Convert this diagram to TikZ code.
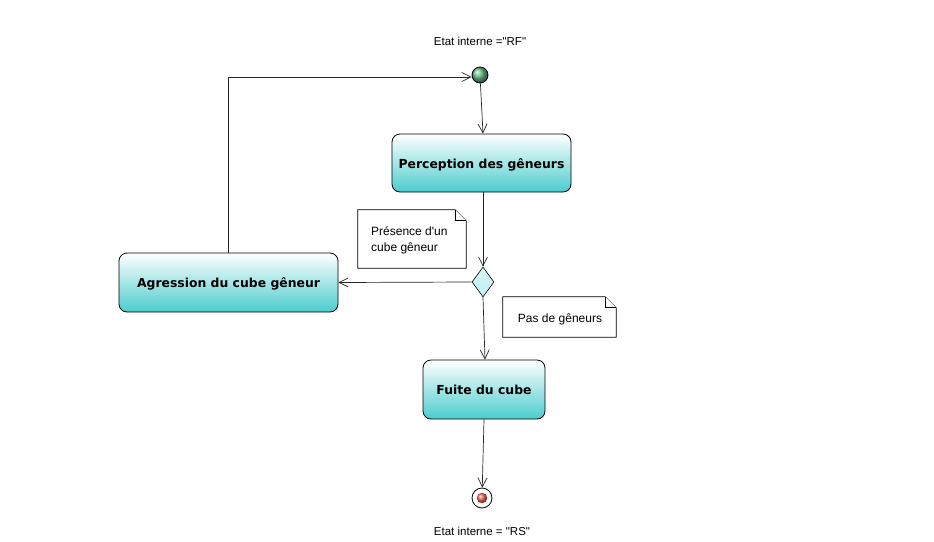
\documentclass[tikz,border=0pt]{standalone}
\usepackage{fontspec}
\setmainfont{Liberation Sans}[Ligatures=TeXOff]
\newfontfamily\actfont{DejaVu Sans}[Ligatures=TeXOff]
\usetikzlibrary{shapes.geometric,arrows.meta}
\definecolor{teal1}{RGB}{76,204,206}
\definecolor{diafill}{RGB}{190,238,240}
\begin{document}
\begin{tikzpicture}[x=1pt,y=-1pt,
  act/.style={draw=black, line width=0.8pt, rounded corners=8pt, top color=white, bottom color=teal1,
    font=\actfont\bfseries\fontsize{12.4}{15}\selectfont, inner sep=0pt, text height=10pt, text depth=0pt},
  flow/.style={draw=black!85, line width=0.7pt, -{Straight Barb[length=9pt,width=9pt,line width=0.7pt]}},
  notebox/.style={draw=none, inner sep=0pt},
  notetext/.style={font=\fontsize{12}{16}\selectfont, inner sep=0pt, align=left},
  notepath/.style={draw=black, line width=0.7pt, fill=white},
  lbl/.style={font=\fontsize{11.5}{14}\selectfont, inner sep=0pt}
]
\useasboundingbox (0,0) rectangle (934,541);

% nodes
\node[circle, draw=black, line width=0.8pt, minimum size=16pt, inner sep=0pt,
      shading=ball, ball color={rgb,255:red,105;green,190;blue,135}] (init) at (480,75) {};
\node[lbl] (lblrf) at (480,41) {Etat interne ="RF"};

\node[act, minimum width=179pt, minimum height=58pt] (perc) at (481.5,163) {Perception des gêneurs};
\node[diamond, draw=black, line width=0.6pt, minimum width=22pt, minimum height=30pt, inner sep=0pt,
      top color=diafill!60!white, bottom color=diafill] (dia) at (483,282) {};
\node[act, minimum width=219pt, minimum height=59pt] (agr) at (228.5,282.5) {Agression du cube gêneur};
\node[act, minimum width=122pt, minimum height=59pt] (fuite) at (484,389.5) {Fuite du cube};

\node[circle, draw=black, line width=0.8pt, minimum size=20pt, inner sep=0pt, fill=white] (fin) at (482,498) {};
\node[circle, minimum size=10.5pt, inner sep=0pt, shading=ball, ball color={rgb,255:red,245;green,100;blue,80}] (fincore) at (482,498) {};
\node[lbl] (lblrs) at (482,531) {Etat interne = "RS"};

% notes
\node[notebox, minimum width=108pt, minimum height=58pt] (n1) at (412,239) {};
\draw[notepath] (n1.north west) -- ([xshift=-11pt]n1.north east) -- ([yshift=-11pt]n1.north east)
  -- (n1.south east) -- (n1.south west) -- cycle;
\draw[notepath] ([xshift=-11pt]n1.north east) |- ([yshift=-11pt]n1.north east);
\node[notetext, anchor=west] (n1t) at (371,240) {Présence d\textquotesingle un\\cube gêneur};

\node[notebox, minimum width=113pt, minimum height=40pt] (n2) at (559.5,317) {};
\draw[notepath] (n2.north west) -- ([xshift=-11pt]n2.north east) -- ([yshift=-11pt]n2.north east)
  -- (n2.south east) -- (n2.south west) -- cycle;
\draw[notepath] ([xshift=-11pt]n2.north east) |- ([yshift=-11pt]n2.north east);
\node[notetext] (n2t) at (560,319) {Pas de gêneurs};

% connectors
\draw[flow] (init) -- ([xshift=1.5pt]perc.north);
\draw[flow] (perc.south -| dia.north) -- (dia.north);
\draw[flow] (dia.west) -- (agr.east);
\draw[flow] (agr.north) |- ([yshift=-2pt]init.west);
\draw[flow] (dia.south) -- ([xshift=1pt]fuite.north);
\draw[flow] (fuite.south) -- (fin);
\end{tikzpicture}
\end{document}
